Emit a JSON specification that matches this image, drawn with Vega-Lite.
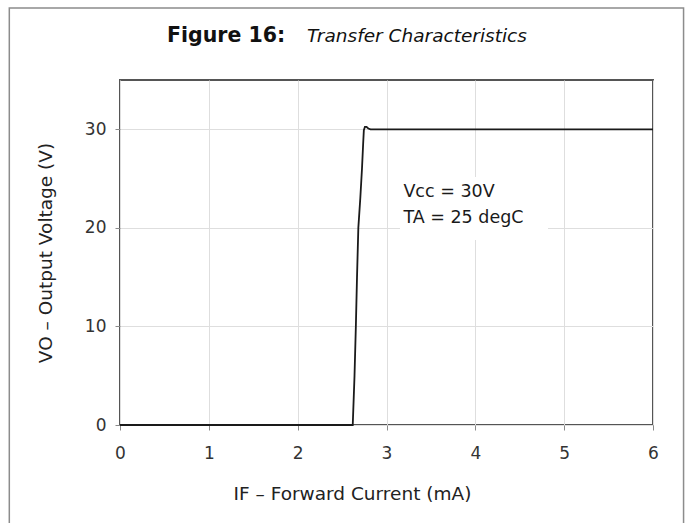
{
  "$schema": "https://vega.github.io/schema/vega-lite/v6.json",
  "width": 533,
  "height": 345,
  "autosize": {"type": "none"},
  "padding": {"left": 120, "top": 80, "right": 35, "bottom": 98},
  "background": "white",
  "data": {
    "values": [
      {"current": 0.0, "voltage": 0},
      {"current": 2.62, "voltage": 0},
      {"current": 2.64, "voltage": 5},
      {"current": 2.655, "voltage": 10},
      {"current": 2.668, "voltage": 15},
      {"current": 2.683, "voltage": 20},
      {"current": 2.705, "voltage": 23},
      {"current": 2.724, "voltage": 26},
      {"current": 2.737, "voltage": 28.5},
      {"current": 2.745, "voltage": 29.9},
      {"current": 2.757, "voltage": 30.25},
      {"current": 2.775, "voltage": 30.25},
      {"current": 2.795, "voltage": 30.08},
      {"current": 2.82, "voltage": 30.0},
      {"current": 6.0, "voltage": 30.0}
    ]
  },
  "encoding": {
    "x": {
      "field": "current",
      "type": "quantitative",
      "scale": {"domain": [0, 6], "nice": false, "zero": false},
      "axis": {
        "title": "IF – Forward Current (mA)",
        "values": [0, 1, 2, 3, 4, 5, 6],
        "format": "d",
        "labelFlush": false,
        "labelPadding": 15,
        "titlePadding": 23,
        "titleX": 232,
        "titleAlign": "center",
        "titleAnchor": "middle"
      }
    },
    "y": {
      "field": "voltage",
      "type": "quantitative",
      "scale": {"domain": [0, 35], "nice": false, "zero": false},
      "axis": {
        "title": "VO – Output Voltage (V)",
        "values": [0, 10, 20, 30],
        "format": "d",
        "labelFlush": false,
        "labelPadding": 9,
        "titlePadding": 29
      }
    }
  },
  "layer": [
    {
      "transform": [{"filter": "datum.current === 6"}],
      "mark": {"type": "rect", "fill": null, "stroke": "#8c8c8c", "strokeWidth": 1.5, "clip": false},
      "encoding": {
        "x": {"datum": -1.246},
        "x2": {"datum": 6.344},
        "y": {"datum": 42.3},
        "y2": {"datum": -11}
      }
    },
    {
      "mark": {"type": "line", "color": "#1a1a1a", "strokeWidth": 1.8, "interpolate": "linear"}
    },
    {
      "transform": [{"filter": "datum.current === 6"}],
      "mark": {"type": "rect", "fill": "white", "stroke": null},
      "encoding": {
        "x": {"datum": 3.152},
        "x2": {"datum": 4.818},
        "y": {"datum": 18.77},
        "y2": {"datum": 25.16}
      }
    },
    {
      "transform": [{"filter": "datum.current === 6"}],
      "mark": {
        "type": "text",
        "align": "left",
        "baseline": "alphabetic",
        "font": "DejaVu Sans",
        "fontSize": 17.5,
        "lineHeight": 26,
        "color": "#1a1a1a",
        "text": ["Vcc = 30V", "TA = 25 degC"]
      },
      "encoding": {
        "x": {"datum": 3.19},
        "y": {"datum": 23.1}
      }
    },
    {
      "transform": [{"filter": "datum.current === 6"}],
      "mark": {
        "type": "text",
        "align": "left",
        "baseline": "alphabetic",
        "font": "DejaVu Sans",
        "fontSize": 20.5,
        "fontWeight": "bold",
        "color": "#111111",
        "clip": false,
        "text": "Figure 16:"
      },
      "encoding": {
        "x": {"datum": 0.529},
        "y": {"datum": 38.86}
      }
    },
    {
      "transform": [{"filter": "datum.current === 6"}],
      "mark": {
        "type": "text",
        "align": "left",
        "baseline": "alphabetic",
        "font": "DejaVu Sans",
        "fontSize": 18.5,
        "fontStyle": "italic",
        "color": "#111111",
        "clip": false,
        "text": "Transfer Characteristics"
      },
      "encoding": {
        "x": {"datum": 2.105},
        "y": {"datum": 38.86}
      }
    }
  ],
  "config": {
    "view": {"stroke": "#555555", "strokeWidth": 2},
    "axis": {
      "domain": false,
      "grid": true,
      "gridColor": "#dedede",
      "gridWidth": 1,
      "ticks": true,
      "tickColor": "#8a8a8a",
      "tickSize": 5,
      "tickWidth": 1,
      "labelFont": "DejaVu Sans",
      "labelFontSize": 17,
      "labelColor": "#333333",
      "titleFont": "DejaVu Sans",
      "titleFontSize": 18.5,
      "titleFontWeight": "normal",
      "titleColor": "#222222"
    }
  }
}
